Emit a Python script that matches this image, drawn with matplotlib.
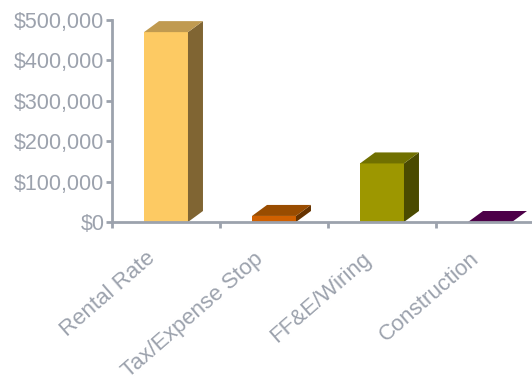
import numpy as np
import matplotlib
matplotlib.use('Agg')
import matplotlib.pyplot as plt
import matplotlib.ticker as mtick
from matplotlib.patches import Polygon
from matplotlib.transforms import ScaledTranslation

categories = ['Rental Rate', 'Tax/Expense Stop', 'FF&E/Wiring', 'Construction']
values = [470000, 15000, 145000, 0]
front_colors = ['#fdca63', '#d06000', '#9d9700', '#6a0062']
top_colors = ['#c09a50', '#994c00', '#707000', '#4d0048']
side_colors = ['#806533', '#663300', '#4a4a00', '#300028']

gray = '#9ca2ad'
plt.rcParams['font.family'] = ['Liberation Sans', 'DejaVu Sans']

fig = plt.figure(figsize=(5.32, 3.85), dpi=100)
ax = fig.add_axes([112 / 532, (385 - 222) / 385, 432 / 532, 202 / 385])
ax.set_xlim(0, 4)
ax.set_ylim(0, 500000)

width = 0.407
dx = 15 / 108          # depth offset in category units
dy = 11 / 202 * 500000  # depth offset in value units

for i, v in enumerate(values):
    x0 = i + 0.5 - width / 2
    x1 = x0 + width
    if v > 0:
        ax.add_patch(Polygon([(x0, 0), (x1, 0), (x1, v), (x0, v)],
                             closed=True, facecolor=front_colors[i], edgecolor='none', clip_on=False))
        ax.add_patch(Polygon([(x1, 0), (x1 + dx, dy), (x1 + dx, v + dy), (x1, v)],
                             closed=True, facecolor=side_colors[i], edgecolor='none', clip_on=False))
    ax.add_patch(Polygon([(x0, v), (x1, v), (x1 + dx, v + dy), (x0 + dx, v + dy)],
                         closed=True, facecolor=top_colors[i], edgecolor='none', clip_on=False))

for s in ['top', 'right']:
    ax.spines[s].set_visible(False)
for s in ['left', 'bottom']:
    ax.spines[s].set_color(gray)
    ax.spines[s].set_linewidth(2)
    ax.spines[s].set_zorder(5)

ax.set_yticks(np.arange(0, 500001, 100000))
ax.yaxis.set_major_formatter(mtick.FuncFormatter(lambda v, p: '${:,.0f}'.format(v)))
ax.tick_params(axis='y', colors=gray, labelsize=15.5, length=4.5, width=2, pad=1)
ax.set_xticks([0, 1, 2, 3])
ax.set_xticklabels([])
ax.tick_params(axis='x', colors=gray, length=4.5, width=2, direction='out')

offset = ScaledTranslation(-7 / 100, -26 / 100, fig.dpi_scale_trans)
for i, c in enumerate(categories):
    ax.text(i + 0.5, 0, c, transform=ax.get_xaxis_transform() + offset,
            rotation=41, ha='right', va='top', fontsize=16, color=gray)

fig.savefig('out.png', dpi=100)
